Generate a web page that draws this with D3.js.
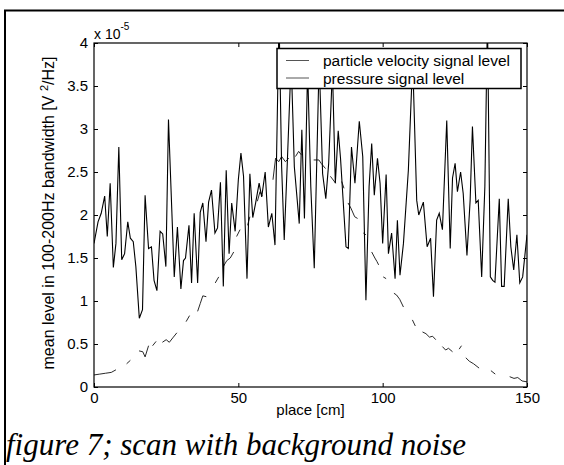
<!DOCTYPE html>
<html lang="en">
<head>
  <meta charset="UTF-8" />
  <title>figure 7; scan with background noise</title>
  <script src="https://d3js.org/d3.v7.min.js"></script>
<style>
body { margin: 0; background: white; }
svg { display: block; }
.tick text { font-family: "Liberation Sans", Arial, sans-serif; font-size: 15px; fill: black; }
.tick line { stroke: black; stroke-width: 1; }
.lbl { font-family: "Liberation Sans", Arial, sans-serif; font-size: 15px; fill: black; }
.caption { font-family: "Liberation Serif", "Times New Roman", serif; font-style: italic; font-size: 31px; fill: black; }
</style>
</head>
<body>
<div id="chart"></div>
<script>
// --- values (level in units of 1e-5 V^2/Hz) ---
const xTicks = [0, 50, 100, 150];
const yTicks = [0, 0.5, 1, 1.5, 2, 2.5, 3, 3.5, 4];
const legendLabels = ["particle velocity signal level", "pressure signal level"];

const pressurePlace = [0,1.4,2.5,3.7,4.6,5.6,6.7,7.6,8.6,9.6,
  10.6,11.7,12.6,13.6,14.5,15.7,16.8,17.7,18.9,19.9,
  20.8,21.8,22.9,23.8,24.9,25.8,27.8,28.9,30.1,31.0,
  31.7,32.9,33.8,34.7,35.9,36.8,37.7,38.8,39.7,40.7,
  41.9,42.8,43.8,44.8,45.8,46.8,47.7,48.9,50.0,50.9,
  51.8,53.0,54.0,55.0,56.0,57.2,58.1,59.3,60.4,61.6,
  62.7,64.1,65.0,65.9,67.0,68.3,69.4,71.1,72.0,72.9,
  74.0,75.1,76.3,78.0,79.2,80.3,81.3,82.6,83.6,84.6,
  85.4,87.3,88.1,89.2,90.4,91.9,93.1,94.2,95.3,96.2,
  97.1,98.2,99.1,100.0,101.2,102.0,103.1,104.3,105.1,106.0,
  107.2,108.9,110.4,111.8,112.5,114.1,115.4,116.6,117.6,118.7,
  119.6,120.7,122.2,123.4,124.2,125.1,125.9,127.0,127.9,129.2,
  130.3,131.1,132.3,133.1,134.3,135.4,136.3,137.3,138.1,138.9,
  140.4,141.2,142.1,143.5,144.4,145.4,146.5,147.5,148.5,150];
const pressureLevel = [1.67,1.92,2.02,2.22,1.75,2.37,1.39,1.67,2.79,1.48,
  1.55,1.92,1.73,1.69,1.40,0.80,0.90,2.23,1.61,1.63,
  1.24,1.12,1.81,1.78,1.40,3.11,1.28,1.86,1.14,1.47,
  1.50,1.88,1.21,2.02,1.21,2.03,2.14,1.69,2.15,2.29,
  1.79,1.85,2.38,1.17,2.52,1.55,2.14,1.81,2.41,2.72,
  2.45,1.26,2.48,1.97,2.14,2.37,2.21,2.50,1.86,2.02,
  1.65,4.3,2.56,1.71,2.64,3.8,2.56,1.90,2.99,1.96,
  3.7,2.33,1.38,3.8,2.48,2.19,2.60,3.7,2.37,2.98,
  2.66,1.63,1.61,2.79,2.37,3.09,2.68,1.01,2.33,2.83,
  2.23,2.66,2.37,1.67,2.47,1.55,1.79,1.26,1.94,1.30,
  1.67,2.52,3.8,2.17,2.0,2.15,1.63,1.73,1.05,1.94,
  2.02,1.83,3.10,1.61,2.43,2.60,2.27,2.50,2.25,1.53,
  2.17,3.03,2.14,2.17,1.28,2.33,4.3,1.28,1.24,1.22,
  2.19,1.17,1.17,2.19,1.63,1.36,1.77,1.21,1.28,1.77];

// velocity trace comes out broken in the scan, null = gap
const velocityPlace = [0,2,4,6,7.6, 9.5, 11.3,12.6, 14, 15.6,16.9,17.7,18.9, 19.6, 20.3,21.5, 22.6,
  23.7,25,26.1,27.5,28.7, 30, 31.9,33.1, 34.5, 35.9,36.8,37.7,38.9, 40.5, 42,43.2, 44,
  44.8,46,47.2,48.4, 48.9, 49.4,50.6, 52, 53.2,54, 55.3, 56.6,57.5,58.3, 60,
  62,62.9,64,65,66.3,67.5, 68.7, 69.8,70.9,71.8, 74, 76.1,77.9,78.7,80.2, 81, 81.9,83.7, 84.8,
  85.8,86.6, 87.3, 88,89,90.3,91.3, 92.3, 93.3,94.2, 95.2, 96.2,97.3,98,98.6, 99.4, 100.2,101.2, 102.5,
  103.9,104.8,105.9,107.2, 108.8, 110.3,111.3, 112.5, 113.8,115,116.2,117.3,118.4, 119.5,
  120.7,121.8,122.8,124.2, 125.3, 126.5,127.3, 128, 128.8,130,131.5,133.4, 135.5,
  137.5,139, 141.5, 144,145.5,146.8,148.3,150];
const velocityLevel = [0.14,0.15,0.16,0.17,0.20, null, 0.27,0.31, null, 0.42,0.41,0.35,0.48, null, 0.48,0.53, null,
  0.52,0.55,0.52,0.58,0.63, null, 0.76,0.83, null, 0.88,0.97,1.06,1.05, null, 1.21,1.28, null,
  1.40,1.47,1.50,1.57, null, 1.75,1.83, null, 1.88,1.98, null, 2.16,2.27,2.22, null,
  2.41,2.66,2.62,2.68,2.62,2.66, null, 2.68,2.74,2.70, null, 2.64,2.64,2.60,2.54, null, 2.45,2.37, null,
  2.39,2.31, null, 2.14,2.08,1.98,1.96, null, 1.79,1.77, null, 1.57,1.50,1.46,1.42, null, 1.28,1.26, null,
  1.09,1.07,1.02,0.93, null, 0.78,0.71, null, 0.64,0.62,0.58,0.59,0.55, null,
  0.47,0.43,0.45,0.41, null, 0.44,0.48, null, 0.34,0.30,0.27,0.22, null,
  0.19,0.15, null, 0.12,0.10,0.11,0.07,0.06];

// --- layout ---
const W = 564, H = 465;
const plotLeft = 94, plotRight = 527, plotTop = 43, plotBottom = 387;

const svg = d3.select("#chart").append("svg")
  .attr("width", W).attr("height", H);

// frame of the document cell
svg.append("line").attr("x1", 4).attr("x2", W).attr("y1", 10.5).attr("y2", 10.5)
  .attr("stroke", "black").attr("stroke-width", 2);
svg.append("line").attr("x1", 5).attr("x2", 5).attr("y1", 10).attr("y2", H)
  .attr("stroke", "black").attr("stroke-width", 2);

const x = d3.scaleLinear().domain([0, 150]).range([plotLeft, plotRight]);
const y = d3.scaleLinear().domain([0, 4]).range([plotBottom, plotTop]);

svg.append("clipPath").attr("id", "plotclip")
  .append("rect").attr("x", plotLeft).attr("y", plotTop)
  .attr("width", plotRight - plotLeft).attr("height", plotBottom - plotTop);

// --- axes (ticks pointing inwards, box on) ---
const fmt = d => String(d);
svg.append("g").attr("transform", `translate(0,${plotBottom})`)
  .call(d3.axisBottom(x).tickValues(xTicks).tickSizeInner(-4).tickSizeOuter(0).tickPadding(5).tickFormat(fmt))
  .call(g => g.select(".domain").remove());
svg.append("g").attr("transform", `translate(0,${plotTop})`)
  .call(d3.axisTop(x).tickValues(xTicks).tickSizeInner(-4).tickSizeOuter(0).tickFormat(""))
  .call(g => g.select(".domain").remove());
svg.append("g").attr("transform", `translate(${plotLeft},0)`)
  .call(d3.axisLeft(y).tickValues(yTicks).tickSizeInner(-4).tickSizeOuter(0).tickPadding(6).tickFormat(fmt))
  .call(g => g.select(".domain").remove());
svg.append("g").attr("transform", `translate(${plotRight},0)`)
  .call(d3.axisRight(y).tickValues(yTicks).tickSizeInner(-4).tickSizeOuter(0).tickFormat(""))
  .call(g => g.select(".domain").remove());
svg.selectAll("g").attr("font-family", null).attr("font-size", null);

// --- lines ---
const line = d3.line().x(d => x(d[0])).y(d => y(d[1]));
const lineV = d3.line().defined(d => d[1] !== null).x(d => x(d[0])).y(d => y(d[1]));

const plot = svg.append("g").attr("clip-path", "url(#plotclip)");
plot.append("path")
  .datum(velocityPlace.map((p, i) => [p, velocityLevel[i]]))
  .attr("fill", "none").attr("stroke", "#111").attr("stroke-width", 0.9)
  .attr("d", lineV);
plot.append("path")
  .datum(pressurePlace.map((p, i) => [p, pressureLevel[i]]))
  .attr("fill", "none").attr("stroke", "#000").attr("stroke-width", 1.1)
  .attr("d", line);

svg.append("rect").attr("x", plotLeft).attr("y", plotTop)
  .attr("width", plotRight - plotLeft).attr("height", plotBottom - plotTop)
  .attr("fill", "none").attr("stroke", "black").attr("stroke-width", 1.2);

// --- exponent label ---
const ex = svg.append("text").attr("class", "lbl").attr("x", plotLeft).attr("y", 39)
  .style("font-size", "14px");
ex.append("tspan").text("x 10");
ex.append("tspan").attr("dy", -9).style("font-size", "10px").text("-5");

// --- legend ---
const legend = svg.append("g");
legend.append("rect").attr("x", 277).attr("y", 48.5).attr("width", 244).attr("height", 40)
  .attr("fill", "white").attr("stroke", "black").attr("stroke-width", 1.5);
legendLabels.forEach((t, i) => {
  const ly = 60.5 + i * 17.5;
  legend.append("line").attr("x1", 286).attr("x2", 309).attr("y1", ly).attr("y2", ly)
    .attr("stroke", "#555").attr("stroke-width", 1);
  legend.append("text").attr("class", "lbl").attr("x", 323).attr("y", ly + 5.5)
    .style("font-size", "15.5px").text(t);
});

// --- axis labels ---
svg.append("text").attr("class", "lbl").attr("text-anchor", "middle")
  .attr("x", x(75)).attr("y", 415).text("place [cm]");

const yl = svg.append("text").attr("class", "lbl").attr("text-anchor", "middle")
  .style("font-size", "16px")
  .attr("transform", `translate(54,${(plotTop + plotBottom) / 2 - 2}) rotate(-90)`);
yl.append("tspan").text("mean level in 100-200Hz bandwidth [V ");
yl.append("tspan").attr("dy", -6).style("font-size", "11px").text("2");
yl.append("tspan").attr("dy", 6).text("/Hz]");

// --- caption ---
svg.append("text").attr("class", "caption").attr("x", 6).attr("y", 455)
  .text("figure 7; scan with background noise");
</script>
</body>
</html>
